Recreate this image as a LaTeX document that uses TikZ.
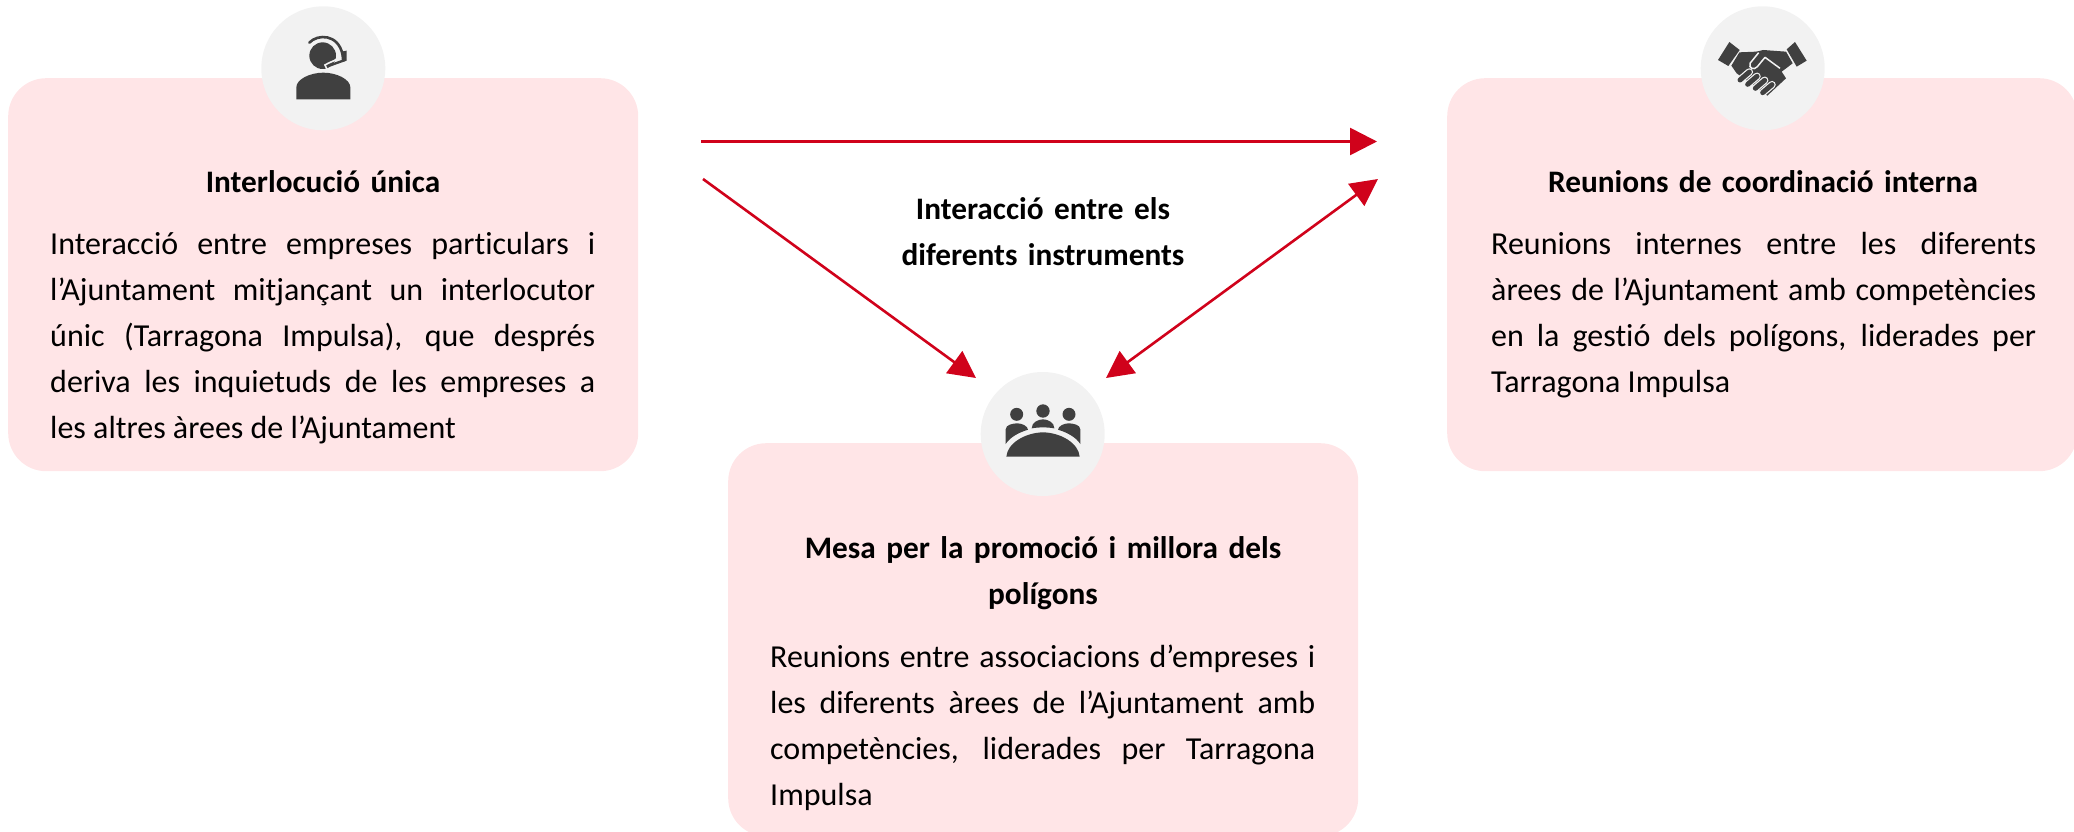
\documentclass[tikz,border=0pt]{standalone}
\usepackage{fontspec}
\setmainfont[Ligatures=NoCommon]{Carlito}
\usetikzlibrary{arrows.meta}
\definecolor{boxpink}{HTML}{FFE5E7}
\definecolor{discgray}{HTML}{F2F2F2}
\definecolor{icondark}{HTML}{404040}
\definecolor{arrowred}{HTML}{D0021B}
\hbadness=10000 \hfuzz=5pt
\tikzset{
  card/.style={fill=boxpink,rounded corners=38pt,anchor=north west,inner sep=0pt},
  disc/.style={circle,fill=discgray,minimum size=124pt,inner sep=0pt},
  cardtitle/.style={font=\fontsize{31.3pt}{46pt}\selectfont\bfseries,align=center,text width=#1,inner sep=0pt,anchor=north},
  cardbody/.style={font=\fontsize{32pt}{46pt}\selectfont,align=justify,text width=#1,inner sep=0pt,anchor=north west},
  flow/.style={arrowred,line width=2.6pt,-{Triangle[length=27pt,width=27pt]}},
  both/.style={arrowred,line width=2.6pt,{Triangle[length=27pt,width=27pt]}-{Triangle[length=27pt,width=27pt]}},
  ink/.style={fill=icondark,draw=none},
  gap/.style={draw=discgray,line width=1.2pt}
}
\newcommand{\brk}{\linebreak}
\begin{document}
\begin{tikzpicture}[x=1pt,y=-1pt]
\useasboundingbox (0,0) rectangle (2074,832);
\clip (0,0) rectangle (2074,832);
% cards
\node[card,minimum width=630pt,minimum height=393pt] (cardA) at (8,78) {};
\node[card,minimum width=630pt,minimum height=393pt] (cardB) at (1447,78) {};
\node[card,minimum width=630pt,minimum height=393pt] (cardC) at (728,443) {};
% discs
\node[disc] (discA) at (323.3,68.3) {};
\node[disc] (discB) at (1762.7,68.3) {};
\node[disc] (discC) at (1042.7,434) {};
% texts
\node[cardtitle=545pt] (titleA) at (323,170) {Interlocució única};
\node[cardbody=545pt] (bodyA) at (50,232.5) {Interacció entre empreses particulars i\brk l’Ajuntament mitjançant un interlocutor\brk únic (Tarragona Impulsa), que després\brk deriva les inquietuds de les empreses a\brk les altres àrees de l’Ajuntament};
\node[cardtitle=545pt] (titleB) at (1763,170) {Reunions de coordinació interna};
\node[cardbody=545pt] (bodyB) at (1491,232.5) {Reunions internes entre les diferents\brk àrees de l’Ajuntament amb competències\brk en la gestió dels polígons, liderades per\brk Tarragona Impulsa};
\node[cardtitle=545pt] (titleC) at (1043,536) {Mesa per la promoció i millora dels\\polígons};
\node[cardbody=545pt] (bodyC) at (770,645) {Reunions entre associacions d’empreses i\brk les diferents àrees de l’Ajuntament amb\brk competències, liderades per Tarragona\brk Impulsa};
\node[cardtitle=400pt] (mid) at (1043,197.5) {Interacció entre els\\diferents instruments};
% connectors
\coordinate (s1) at (701,141.5);
\coordinate (t1) at (1377,141.5);
\coordinate (s2) at (703,179);
\coordinate (t2) at (976,378);
\coordinate (t3a) at (1378,179);
\coordinate (t3b) at (1106,378);
\draw[flow] (s1) -- (t1);
\draw[flow] (s2) -- (t2);
\draw[both] (t3b) -- (t3a);
% headset icon
\begin{scope}[shift={(230,0)},scale=1/3]
  \fill[ink] (199,298) -- (199,262) .. controls (199,238) and (240,218) .. (280,218) .. controls (320,218) and (361,238) .. (361,262) -- (361,298) -- cycle;
  \fill[ink] (278,167) circle (40);
  \draw[gap,line width=1.6pt] (335,150) .. controls (335,180) and (310,180) .. (285,195) -- (292,210);
  \draw[icondark,line width=2.6pt,line cap=round] (238,128) .. controls (262,102) and (325,100) .. (338,165);
  \draw[icondark,line width=2.4pt,line cap=round] (345,180) -- (295,198);
  \fill[ink] (333,155) -- (350,152) -- (350,182) -- (336,186) -- cycle;
\end{scope}
% handshake icon
\begin{scope}[shift={(1680,0)},scale=1/3]
  \fill[ink] (148,126) -- (179,150) -- (145,198) -- (114,180) -- cycle;
  \fill[ink] (345,126) -- (380,182) -- (350,200) -- (320,148) -- cycle;
  \fill[ink] (178,157) -- (228,155) -- (250,150) -- (318,155) -- (338,190) -- (305,215) -- (318,235) -- (262,287) -- (170,220) -- (154,197) -- cycle;
  \draw[gap,line width=1.5pt,fill=icondark,line join=round] (300,205) -- (255,172) -- (232,200) .. controls (222,212) and (205,205) .. (210,190) -- (236,158);
  \foreach \a/\b in {180/240,203/253,226/265,248/278}{
    \draw[discgray,line width=7.5pt,line cap=round] (\a,\b) -- ++(28,-24);
    \draw[icondark,line width=5pt,line cap=round] (\a,\b) -- ++(28,-24);
  }
\end{scope}
% meeting icon
\begin{scope}[shift={(960,350)},scale=1/3]
  \fill[ink] (170,193) circle (19.5);
  \fill[ink] (249,183) circle (20);
  \fill[ink] (327,193) circle (19.5);
  \fill[ink] (137,282) -- (137,238) .. controls (137,224) and (160,220) .. (172,220) .. controls (186,220) and (203,228) .. (204,239) .. controls (175,248) and (150,262) .. (137,282) -- cycle;
  \fill[ink] (361,282) -- (361,238) .. controls (361,224) and (338,220) .. (326,220) .. controls (312,220) and (295,228) .. (294,239) .. controls (323,248) and (348,262) .. (361,282) -- cycle;
  \fill[ink] (215,235) .. controls (215,217) and (235,208) .. (249,208) .. controls (263,208) and (283,217) .. (283,235) .. controls (260,231) and (238,231) .. (215,235) -- cycle;
  \fill[ink] (139,320) .. controls (142,280) and (195,248) .. (249,247) .. controls (303,248) and (356,280) .. (359,320) -- cycle;
\end{scope}
\end{tikzpicture}
\end{document}
